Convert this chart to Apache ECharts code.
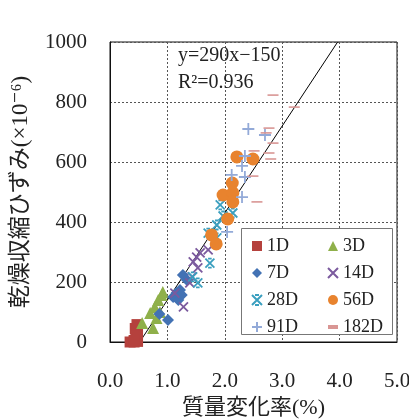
<!doctype html>
<html>
    <head>
        <meta charset="utf-8">
        <title>乾燥収縮ひずみ</title>
        <style>
            html, body { margin: 0; padding: 0; background: #fff; }
            #main { width: 409px; height: 419px; }
        </style>
    </head>
    <body>
        <div id="main"></div>
        <script src="https://cdn.jsdelivr.net/npm/echarts@6/dist/echarts.min.js"></script>
        <script>
            var chart = echarts.init(document.getElementById('main'));

            var FONT = "'Liberation Serif', 'DejaVu Serif', 'Noto Sans CJK JP', serif";

            // [質量変化率(%), 乾燥収縮ひずみ(x10^-6)]
            var d1 = [[0.35, 0], [0.42, 0], [0.48, 2], [0.45, 15], [0.48, 30], [0.44, 45], [0.47, 58], [0.42, 5]];
            var d3 = [[0.56, 63], [0.70, 97], [0.75, 47], [0.78, 117], [0.84, 140], [0.90, 157], [0.92, 167], [0.87, 100], [0.81, 80]];
            var d7 = [[0.86, 93], [1.01, 73], [1.27, 223], [1.16, 163], [1.22, 173], [1.10, 150], [1.19, 140], [1.25, 157], [1.34, 207]];
            var d14 = [[1.13, 163], [1.28, 117], [1.39, 197], [1.45, 267], [1.51, 283], [1.57, 297], [1.71, 307], [1.53, 247], [1.43, 217]];
            var d28 = [[1.44, 217], [1.53, 197], [1.74, 263], [1.71, 363], [1.86, 347], [1.86, 390], [1.92, 457], [2.14, 430], [1.97, 420]];
            var d56 = [[1.77, 357], [1.85, 327], [2.05, 410], [1.97, 490], [2.14, 497], [2.14, 467], [2.13, 530], [2.21, 617], [2.49, 610]];
            var d91 = [[2.41, 710], [2.70, 690], [2.35, 620], [2.30, 587], [2.12, 557], [2.35, 550], [2.30, 483], [2.04, 367]];
            var d182 = [[2.84, 823], [3.21, 783], [2.77, 713], [2.72, 697], [2.84, 663], [2.51, 637], [2.77, 630], [2.80, 610], [2.49, 553], [2.56, 467]];

            // regression y = 290x - 150
            var slope = 290, intercept = -150;
            var yMin = 0, yMax = 1000;
            var fitLine = [[(yMin - intercept) / slope, yMin], [(yMax - intercept) / slope, yMax]];

            var xTicks = [0, 1, 2, 3, 4, 5];
            var yTicks = [0, 200, 400, 600, 800, 1000];

            var SYM_X = 'path://M0,0L10,10M10,0L0,10';
            var SYM_STAR = 'path://M0,0L10,10M10,0L0,10M3,0L7,0M3,10L7,10';
            var SYM_PLUS = 'path://M5,0L5,10M0,5L10,5';
            var SYM_DASH = 'path://M0,0H10V4H0Z';

            function pts(name, data, symbol, size, color, stroke) {
                var s = {
                    name: name,
                    type: 'scatter',
                    data: data,
                    symbol: symbol,
                    symbolSize: size,
                    itemStyle: { color: color, opacity: 1 }
                };
                if (stroke) {
                    s.itemStyle.color = 'rgba(0,0,0,0)';
                    s.itemStyle.borderColor = color;
                    s.itemStyle.borderWidth = stroke;
                }
                if (symbol === SYM_DASH) s.symbolKeepAspect = true;
                return s;
            }

            var legendText = { fontFamily: FONT, fontSize: 18, color: '#222' };

            chart.setOption({
                animation: false,
                grid: {
                    left: 110, top: 42, right: 12, bottom: 77,
                    outerBoundsMode: 'none', containLabel: false,
                    show: true, borderColor: '#111', borderWidth: 1
                },
                xAxis: {
                    type: 'value',
                    min: xTicks[0], max: xTicks[xTicks.length - 1], interval: 1,
                    name: '質量変化率(%)',
                    nameLocation: 'middle', nameGap: 55,
                    nameTextStyle: { fontFamily: FONT, fontSize: 22, color: '#222' },
                    axisLine: { lineStyle: { color: '#111' } },
                    axisTick: { show: false },
                    axisLabel: {
                        margin: 29, fontFamily: FONT, fontSize: 21, color: '#222',
                        formatter: function (v) { return v.toFixed(1); }
                    },
                    splitLine: { lineStyle: { color: '#555', type: [2, 2] } }
                },
                yAxis: {
                    type: 'value',
                    min: yTicks[0], max: yTicks[yTicks.length - 1], interval: 200,
                    name: '乾燥収縮ひずみ(×10⁻⁶)',
                    nameLocation: 'middle', nameGap: 78,
                    nameTextStyle: { fontFamily: FONT, fontSize: 23, color: '#222' },
                    axisLine: { show: true, lineStyle: { color: '#111' } },
                    axisTick: { show: false },
                    axisLabel: {
                        margin: 23, fontFamily: FONT, fontSize: 21, color: '#222',
                        formatter: function (v) { return String(v); }
                    },
                    splitLine: { lineStyle: { color: '#555', type: [2, 2] } }
                },
                legend: [{
                    data: ['1D', '7D', '28D', '91D'],
                    orient: 'vertical', left: 251, top: 237,
                    padding: 0, itemGap: 9, itemWidth: 10, itemHeight: 10,
                    textStyle: legendText
                }, {
                    data: ['3D', '14D', '56D', '182D'],
                    orient: 'vertical', left: 327, top: 237,
                    padding: 0, itemGap: 9, itemWidth: 10, itemHeight: 10,
                    textStyle: legendText
                }],
                graphic: [{
                    type: 'rect', z: 3,
                    shape: { x: 241.5, y: 228.5, width: 151, height: 106 },
                    style: { fill: '#fff', stroke: '#777', lineWidth: 1 }
                }, {
                    type: 'text', left: 178, top: 46, z: 5,
                    style: { text: 'y=290x−150', font: '20px ' + FONT, fill: '#222' }
                }, {
                    type: 'text', left: 178, top: 73, z: 5,
                    style: { text: 'R²=0.936', font: '20px ' + FONT, fill: '#222' }
                }],
                series: [
                    {
                        type: 'line', data: fitLine, symbol: 'none', silent: true,
                        lineStyle: { color: '#000', width: 1 }, z: 1
                    },
                    pts('1D', d1, 'rect', 11, '#B5413D'),
                    pts('3D', d3, 'triangle', 12, '#8FB04A'),
                    pts('7D', d7, 'diamond', 12, '#4372B4'),
                    pts('14D', d14, SYM_X, 9, '#7B5A9E', 1.8),
                    pts('28D', d28, SYM_STAR, 9, '#3A9FBF', 1.8),
                    pts('56D', d56, 'circle', 13, '#E8832E'),
                    pts('91D', d91, SYM_PLUS, 12, '#93AAD8', 1.8),
                    pts('182D', d182, SYM_DASH, [11, 4], '#D99694')
                ]
            });

            window.onresize = chart.resize;
        </script>
    </body>
</html>
